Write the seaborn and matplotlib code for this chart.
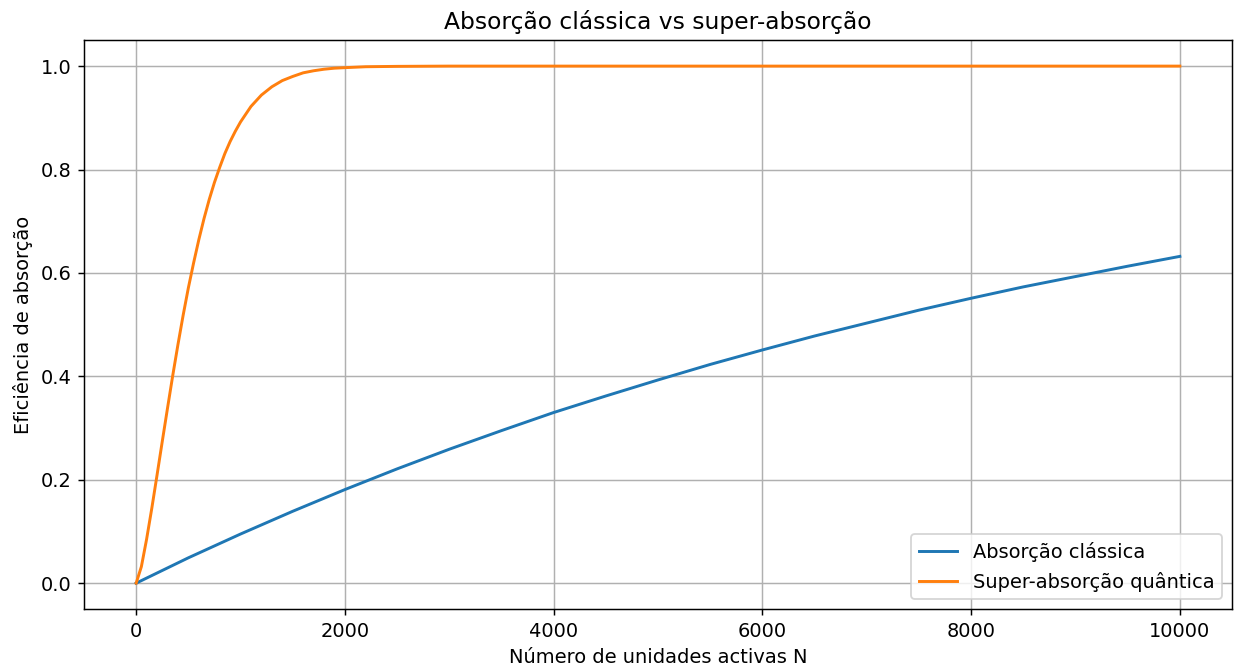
import matplotlib
matplotlib.use("Agg")
import matplotlib.pyplot as plt
import seaborn as sns
import pandas as pd

# valores
n_classica = [0, 500, 1000, 1500, 2000, 2500, 3000, 3500, 4000, 4500, 5000, 5500,
              6000, 6500, 7000, 7500, 8000, 8500, 9000, 9500, 10000]
ef_classica = [0.0, 0.049, 0.095, 0.139, 0.181, 0.221, 0.259, 0.295, 0.330, 0.362, 0.393,
               0.423, 0.451, 0.478, 0.503, 0.528, 0.551, 0.573, 0.593, 0.613, 0.632]

n_quantica = [0, 50, 100, 150, 200, 250, 300, 350, 400, 450, 500, 550, 600, 650, 700,
              750, 800, 850, 900, 950, 1000, 1100, 1200, 1300, 1400, 1500, 1600, 1700,
              1800, 1900, 2000, 2200, 2500, 3000, 4000, 6000, 8000, 10000]
ef_quantica = [0.0, 0.032, 0.085, 0.145, 0.209, 0.274, 0.338, 0.401, 0.461, 0.518, 0.571,
               0.619, 0.664, 0.705, 0.742, 0.775, 0.804, 0.831, 0.854, 0.874, 0.892,
               0.922, 0.944, 0.960, 0.972, 0.980, 0.987, 0.991, 0.994, 0.996, 0.997,
               0.9988, 0.9995, 1.0, 1.0, 1.0, 1.0, 1.0]

df_c = pd.DataFrame({"N": n_classica, "ef": ef_classica})
df_q = pd.DataFrame({"N": n_quantica, "ef": ef_quantica})

plt.rcParams["font.size"] = 10.6
fig, ax = plt.subplots(figsize=(1235/132, 671/132), dpi=132)
fig.subplots_adjust(left=0.068, right=0.9976, top=0.940, bottom=0.0924)

sns.lineplot(data=df_c, x="N", y="ef", color="#1f77b4", lw=1.6, label="Absorção clássica", ax=ax)
sns.lineplot(data=df_q, x="N", y="ef", color="#ff7f0e", lw=1.6, label="Super-absorção quântica", ax=ax)

ax.set_title("Absorção clássica vs super-absorção")
ax.set_xlabel("Número de unidades activas N")
ax.set_ylabel("Eficiência de absorção")
ax.grid(True)
ax.legend(loc="lower right")

fig.savefig("out.png", dpi=132)
